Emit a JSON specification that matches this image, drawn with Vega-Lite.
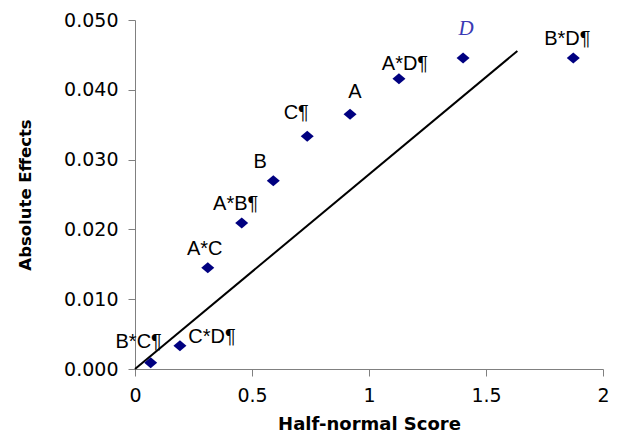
{
  "$schema": "https://vega.github.io/schema/vega-lite/v6.json",
  "autosize": "none",
  "width": 468,
  "height": 349,
  "padding": {"left": 135, "top": 20, "right": 19, "bottom": 63},
  "background": "white",
  "config": {"view": {"stroke": null}},
  "datasets": {
    "effects": [
      {"label": "B*C¶", "score": 0.067, "effect": 0.0009},
      {"label": "C*D¶", "score": 0.192, "effect": 0.00334},
      {"label": "A*C", "score": 0.311, "effect": 0.01452},
      {"label": "A*B¶", "score": 0.456, "effect": 0.02092},
      {"label": "B", "score": 0.591, "effect": 0.02698},
      {"label": "C¶", "score": 0.736, "effect": 0.03334},
      {"label": "A", "score": 0.919, "effect": 0.03649},
      {"label": "A*D¶", "score": 1.128, "effect": 0.04159},
      {"label": "D", "score": 1.402, "effect": 0.04456},
      {"label": "B*D¶", "score": 1.873, "effect": 0.04456}
    ],
    "fit": [
      {"score": 0, "effect": 0},
      {"score": 1.634, "effect": 0.04556}
    ]
  },
  "encoding": {
    "x": {
      "field": "score", "type": "quantitative",
      "scale": {"domain": [0, 2], "nice": false, "zero": true},
      "axis": {
        "title": "Half-normal Score",
        "values": [0, 0.5, 1, 1.5, 2],
        "format": ".1~f",
        "grid": false, "labelFlush": false, "labelOverlap": false,
        "domainColor": "#808080", "tickColor": "#808080",
        "tickSize": 7, "labelPadding": 10,
        "labelFont": "DejaVu Sans", "labelFontSize": 19, "labelColor": "black",
        "titleFont": "DejaVu Sans", "titleFontSize": 18, "titleFontWeight": "bold",
        "titleColor": "black", "titlePadding": 10
      }
    },
    "y": {
      "field": "effect", "type": "quantitative",
      "scale": {"domain": [0, 0.05], "nice": false},
      "axis": {
        "title": "Absolute Effects",
        "values": [0, 0.01, 0.02, 0.03, 0.04, 0.05],
        "format": ".3f",
        "grid": false, "labelOverlap": false,
        "domainColor": "#808080", "tickColor": "#808080",
        "tickSize": 7, "labelPadding": 10,
        "labelFont": "DejaVu Sans", "labelFontSize": 19, "labelColor": "black",
        "titleFont": "DejaVu Sans", "titleFontSize": 16.5, "titleFontWeight": "bold",
        "titleColor": "black", "titlePadding": 30
      }
    }
  },
  "layer": [
    {
      "data": {"name": "fit"},
      "mark": {"type": "line", "color": "black", "strokeWidth": 2}
    },
    {
      "data": {"name": "effects"},
      "mark": {"type": "point", "shape": "M-1,0L0,-0.85L1,0L0,0.85Z", "filled": true, "size": 169, "color": "#000080", "opacity": 1}
    },
    {
      "data": {"name": "effects"},
      "transform": [{"filter": "datum.label == 'B*C¶'"}],
      "mark": {"type": "text", "font": "Liberation Sans", "fontSize": 20, "color": "black", "baseline": "middle", "dx": -12, "dy": -21},
      "encoding": {"text": {"field": "label"}}
    },
    {
      "data": {"name": "effects"},
      "transform": [{"filter": "datum.label == 'C*D¶'"}],
      "mark": {"type": "text", "font": "Liberation Sans", "fontSize": 20, "color": "black", "baseline": "middle", "dx": 32, "dy": -9},
      "encoding": {"text": {"field": "label"}}
    },
    {
      "data": {"name": "effects"},
      "transform": [{"filter": "datum.label == 'A*C'"}],
      "mark": {"type": "text", "font": "Liberation Sans", "fontSize": 20, "color": "black", "baseline": "middle", "dx": -3, "dy": -19},
      "encoding": {"text": {"field": "label"}}
    },
    {
      "data": {"name": "effects"},
      "transform": [{"filter": "datum.label == 'A*B¶' || datum.label == 'B*D¶'"}],
      "mark": {"type": "text", "font": "Liberation Sans", "fontSize": 20, "color": "black", "baseline": "middle", "dx": -6, "dy": -19},
      "encoding": {"text": {"field": "label"}}
    },
    {
      "data": {"name": "effects"},
      "transform": [{"filter": "datum.label == 'B'"}],
      "mark": {"type": "text", "font": "Liberation Sans", "fontSize": 20, "color": "black", "baseline": "middle", "dx": -13, "dy": -19},
      "encoding": {"text": {"field": "label"}}
    },
    {
      "data": {"name": "effects"},
      "transform": [{"filter": "datum.label == 'C¶'"}],
      "mark": {"type": "text", "font": "Liberation Sans", "fontSize": 20, "color": "black", "baseline": "middle", "dx": -11, "dy": -23},
      "encoding": {"text": {"field": "label"}}
    },
    {
      "data": {"name": "effects"},
      "transform": [{"filter": "datum.label == 'A'"}],
      "mark": {"type": "text", "font": "Liberation Sans", "fontSize": 20, "color": "black", "baseline": "middle", "dx": 5, "dy": -22},
      "encoding": {"text": {"field": "label"}}
    },
    {
      "data": {"name": "effects"},
      "transform": [{"filter": "datum.label == 'A*D¶'"}],
      "mark": {"type": "text", "font": "Liberation Sans", "fontSize": 20, "color": "black", "baseline": "middle", "dx": 6, "dy": -15},
      "encoding": {"text": {"field": "label"}}
    },
    {
      "data": {"name": "effects"},
      "transform": [{"filter": "datum.label == 'D'"}],
      "mark": {"type": "text", "font": "Liberation Serif", "fontSize": 21, "fontStyle": "italic", "color": "#3a3ab4", "baseline": "middle", "dx": 3, "dy": -29},
      "encoding": {"text": {"field": "label"}}
    }
  ]
}
